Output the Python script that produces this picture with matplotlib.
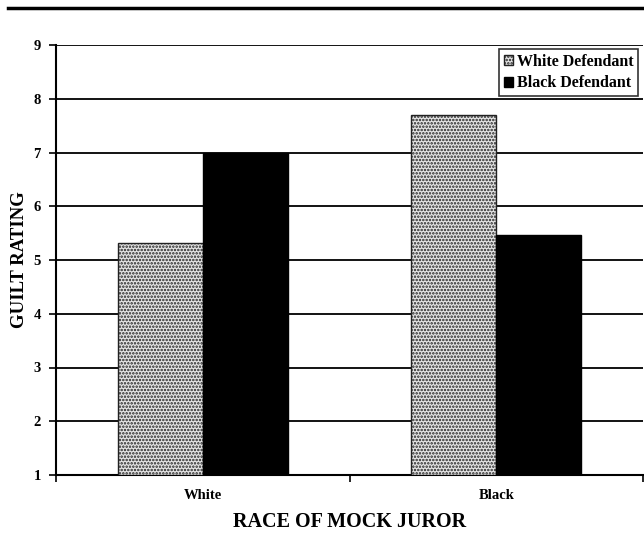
import numpy as np
import matplotlib
matplotlib.use('Agg')
import matplotlib.pyplot as plt
from matplotlib.lines import Line2D

jurorRace = ['White', 'Black']
whiteDefendant = [5.31, 7.69]
blackDefendant = [7.0, 5.46]
seriesNames = ['White Defendant', 'Black Defendant']
yTicks = [1, 2, 3, 4, 5, 6, 7, 8, 9]

plt.rcParams['font.family'] = ['Liberation Serif', 'DejaVu Serif']
plt.rcParams['font.weight'] = 'bold'
plt.rcParams['hatch.linewidth'] = 1.2

W, H = 644, 535
fig = plt.figure(figsize=(W / 100, H / 100), dpi=100)
ax = fig.add_axes([56 / W, 1 - 475 / H, (643 - 56) / W, (475 - 45) / H])

x = np.arange(len(jurorRace)) + 0.5
barWidth = 0.29

ax.bar(x - barWidth / 2, [v - 1 for v in whiteDefendant], barWidth, bottom=1,
       facecolor='#e4e4e4', edgecolor='#222222', hatch='.....', linewidth=1,
       label=seriesNames[0], zorder=3)
ax.bar(x + barWidth / 2, [v - 1 for v in blackDefendant], barWidth, bottom=1,
       color='black', edgecolor='black', linewidth=1,
       label=seriesNames[1], zorder=3)

ax.set_xlim(0, 2)
ax.set_ylim(1, 9)
ax.set_yticks(yTicks)
ax.set_yticklabels([str(t) for t in yTicks], fontsize=10.5, fontweight='bold')
ax.yaxis.grid(True, color='black', linewidth=1.3, zorder=0)
ax.set_axisbelow(True)

ax.set_xticks([0, 1, 2])
ax.set_xticklabels([])
ax.set_xticks(x, minor=True)
ax.set_xticklabels(jurorRace, minor=True, fontsize=10.5, fontweight='bold')
ax.tick_params(axis='x', which='minor', length=0, pad=10)
ax.tick_params(axis='x', which='major', length=5, width=1.2, direction='out')
ax.tick_params(axis='y', length=5, width=1.2, direction='out', pad=6)

for s in ['top', 'right']:
    ax.spines[s].set_visible(False)
ax.spines['left'].set_linewidth(1.5)
ax.spines['bottom'].set_linewidth(1.5)

ax.set_xlabel('RACE OF MOCK JUROR', fontsize=14.5, fontweight='bold', labelpad=7)
ax.set_ylabel('GUILT RATING', fontsize=13.5, fontweight='bold', labelpad=4)

leg = ax.legend(loc='upper left', bbox_to_anchor=(499 / W, 1 - 49 / H),
                bbox_transform=fig.transFigure, fontsize=11.5, frameon=True,
                fancybox=False, edgecolor='black', handlelength=0.6,
                handleheight=0.6, handletextpad=0.2, borderpad=0.3,
                labelspacing=0.35, borderaxespad=0)
leg.get_frame().set_linewidth(1.2)
for t in leg.get_texts():
    t.set_fontweight('bold')

fig.add_artist(Line2D([8 / W, 1], [1 - 8 / H, 1 - 8 / H], transform=fig.transFigure,
                      color='black', linewidth=2.5))

fig.savefig('out.png', dpi=100)
